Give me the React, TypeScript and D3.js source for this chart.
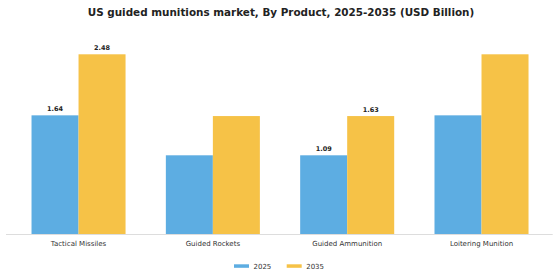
import * as d3 from "d3";

const categories = ["Tactical Missiles", "Guided Rockets", "Guided Ammunition", "Loitering Munition"];
const values2025 = [1.64, 1.09, 1.09, 1.64];
const values2035 = [2.48, 1.63, 1.63, 2.48];
const labelled = [true, false, true, false];
const seriesNames = ["2025", "2035"];

const WIDTH = 560;
const HEIGHT = 280;
const BLUE = "#5DADE2";
const ORANGE = "#F6C247";
const BAR_WIDTH = 0.35;
const FONT = "'DejaVu Sans', sans-serif";

export default function App() {
  const xScale = d3.scaleLinear().domain([-0.54, 3.53]).range([6, 552.7]);
  const yScale = d3.scaleLinear().domain([0, 2.48]).range([234.5, 54.3]);
  const barPx = xScale(BAR_WIDTH) - xScale(0);
  const series = [
    { name: seriesNames[0], values: values2025, color: BLUE, offset: -BAR_WIDTH / 2 },
    { name: seriesNames[1], values: values2035, color: ORANGE, offset: BAR_WIDTH / 2 },
  ];

  return (
    <div style={{ position: "absolute", left: 0, top: 0 }}>
      <svg width={WIDTH} height={HEIGHT} style={{ display: "block", background: "#fff" }} fontFamily={FONT}>
        <text x={281} y={15.7} textAnchor="middle" fontSize={10.4} fontWeight="bold" fill="#222">
          US guided munitions market, By Product, 2025-2035 (USD Billion)
        </text>

        {series.map((s) =>
          s.values.map((v, i) => {
            const cx = xScale(i + s.offset);
            return (
              <g key={`${s.name}-${i}`}>
                <rect
                  x={cx - barPx / 2}
                  y={yScale(v)}
                  width={barPx}
                  height={yScale(0) - yScale(v)}
                  fill={s.color}
                />
                {labelled[i] ? (
                  <text
                    x={cx}
                    y={yScale(v) - 4}
                    textAnchor="middle"
                    fontSize={6.5}
                    fontWeight="bold"
                    fill="#222"
                  >
                    {v.toFixed(2)}
                  </text>
                ) : null}
              </g>
            );
          })
        )}

        <line x1={xScale.range()[0]} x2={xScale.range()[1]} y1={yScale(0)} y2={yScale(0)} stroke="#ddd" strokeWidth={1} />

        {categories.map((c, i) => (
          <text key={c} x={xScale(i)} y={246} textAnchor="middle" fontSize={7} fill="#333">
            {c}
          </text>
        ))}

        {series.map((s, i) => {
          const lx = 234 + i * 52.7;
          return (
            <g key={s.name}>
              <rect x={lx} y={264.3} width={15} height={3.5} fill={s.color} />
              <text x={lx + 19.5} y={268.5} fontSize={7} fill="#333">
                {s.name}
              </text>
            </g>
          );
        })}
      </svg>
    </div>
  );
}
